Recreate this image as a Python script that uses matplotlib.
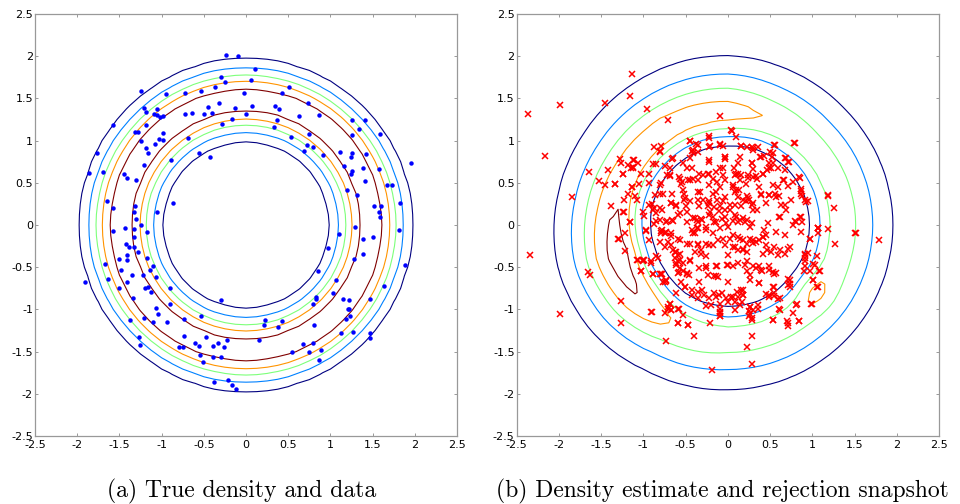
import numpy as np
import matplotlib
matplotlib.use("Agg")
import matplotlib.pyplot as plt

plt.rcParams['axes.unicode_minus'] = False

# contour levels shared by both panels (density values)
levels = [0.146, 0.315, 0.498, 0.667, 0.864]
level_colors = plt.cm.jet([0.0, 0.25, 0.5, 0.75, 1.0])

# true density: ring of radius ring_r, width ring_w
ring_r = 1.48
ring_w = 0.25

# density estimate: ring with angle dependent height
est_center = (0.0, 0.0)
est_radius = 1.34
est_inner_w = 0.22
est_outer_w = 0.49
est_angles = [0, 45, 70, 90, 120, 150, 172, 195, 218, 240, 270, 315]
est_amp = [0.60, 0.60, 0.66, 0.75, 0.77, 0.80, 0.87, 0.98, 0.87, 0.67, 0.60, 0.60]
# small extra bumps: x, y, height, width
est_bumps = [(1.02, -0.78, 0.13, 0.15), (0.95, 0.95, 0.08, 0.06), (-0.78, 1.12, 0.10, 0.06)]

# observed data (blue dots)
blue_pts = np.array([
    (-0.24, 2.01), (-0.09, 2.00), (0.11, 1.85), (-0.30, 1.75), (-0.25, 1.69), (0.06, 1.72),
    (-0.37, 1.63), (-0.53, 1.59), (-0.72, 1.57), (-0.03, 1.57), (0.43, 1.57), (0.51, 1.63),
    (-0.95, 1.55), (-1.25, 1.59), (-1.21, 1.39), (-1.18, 1.34), (-1.06, 1.37), (-1.09, 1.32),
    (-1.05, 1.30), (-1.02, 1.28), (-0.98, 1.29), (-0.72, 1.31), (-0.64, 1.33), (-0.50, 1.31),
    (-0.45, 1.40), (-0.40, 1.33), (-0.32, 1.44), (-0.13, 1.39), (0.00, 1.31), (0.07, 1.41),
    (-0.17, 1.26), (-0.28, 1.20), (0.34, 1.41), (0.39, 1.37), (0.37, 1.24), (0.33, 1.16),
    (0.63, 1.29), (0.73, 1.44), (0.87, 1.30), (0.53, 1.04), (0.75, 1.08), (0.72, 0.95),
    (0.79, 0.92), (0.69, 0.88), (0.91, 0.83), (-1.58, 1.18), (-1.18, 1.18), (-1.31, 1.10),
    (-1.28, 1.10), (-1.24, 0.99), (-1.18, 0.91), (-1.16, 0.85), (-1.08, 0.96), (-1.03, 1.02),
    (-0.98, 1.09), (-0.98, 1.01), (-1.21, 0.71), (-0.89, 0.77), (-0.69, 1.03), (-0.56, 0.85),
    (-0.43, 0.81), (-1.77, 0.85), (-1.86, 0.62), (-1.70, 0.63), (-1.45, 0.61), (-1.41, 0.56),
    (-1.30, 0.53), (-1.65, 0.28), (-1.58, 0.20), (-1.32, 0.22), (-1.33, 0.16), (-1.30, 0.07),
    (-1.25, 0.00), (-1.44, -0.03), (-1.33, -0.05), (-1.58, -0.07), (-1.17, -0.08), (-1.05, 0.15),
    (-0.87, 0.26), (1.25, 1.24), (1.41, 1.24), (1.34, 1.14), (1.26, 1.07), (1.59, 1.08),
    (1.42, 0.84), (1.11, 0.86), (1.25, 0.85), (1.24, 0.80), (1.16, 0.70), (1.39, 0.68),
    (1.25, 0.64), (1.24, 0.60), (1.58, 0.66), (1.41, 0.52), (1.20, 0.41), (1.32, 0.36),
    (1.67, 0.47), (1.73, 0.47), (1.82, 0.26), (1.95, 0.73), (1.52, 0.22), (1.60, 0.22),
    (1.58, 0.15), (1.59, 0.10), (1.29, -0.02), (1.10, -0.11), (1.38, -0.16), (1.50, -0.14),
    (1.81, -0.06), (-1.33, -0.14), (-1.42, -0.23), (-1.39, -0.26), (-1.33, -0.26), (-1.28, -0.32),
    (-1.51, -0.40), (-1.41, -0.36), (-1.41, -0.41), (-1.17, -0.39), (-1.67, -0.46), (-1.48, -0.53),
    (-1.10, -0.48), (-1.14, -0.53), (-1.64, -0.64), (-1.35, -0.59), (-1.22, -0.59), (-1.07, -0.62),
    (-1.91, -0.68), (-1.41, -0.68), (-1.50, -0.75), (-1.16, -0.73), (-1.20, -0.75), (-1.13, -0.79),
    (-0.90, -0.75), (-1.34, -0.87), (-0.90, -0.94), (-1.07, -0.98), (-1.04, -1.05), (-1.37, -1.12),
    (-1.21, -1.10), (-1.10, -1.15), (-0.94, -1.15), (-0.74, -1.11), (-0.73, -1.32), (-1.27, -1.33),
    (-1.26, -1.42), (-0.80, -1.45), (-0.75, -1.45), (-0.60, -1.40), (-0.56, -1.43), (-0.48, -1.33),
    (-0.53, -1.08), (-0.39, -1.43), (-0.33, -1.40), (-0.26, -1.44), (-0.22, -1.36), (-0.54, -1.54),
    (-0.51, -1.62), (-0.39, -1.56), (-0.30, -1.56), (-0.38, -1.86), (-0.21, -1.84), (-0.17, -1.90),
    (-0.12, -1.94), (-0.30, -0.89), (0.22, -1.12), (0.21, -1.18), (0.43, -1.14), (0.38, -1.21),
    (0.15, -1.36), (0.54, -1.50), (0.68, -1.41), (0.75, -1.50), (0.79, -1.40), (0.86, -1.60),
    (0.89, -1.48), (0.81, -1.18), (0.83, -0.85), (0.83, -0.88), (0.79, -0.94), (1.03, -0.81),
    (1.15, -0.88), (1.22, -0.89), (1.22, -0.99), (1.21, -1.00), (1.19, -1.11), (1.23, -1.08),
    (1.12, -1.28), (1.27, -1.27), (1.47, -0.88), (1.47, -1.28), (1.47, -1.34), (1.64, -0.72),
    (1.88, -0.47), (1.07, -0.65), (0.85, -0.55), (0.97, -0.27), (1.28, -0.40), (1.39, -0.34),
])

# rejection sampler snapshot (red crosses)
red_pts = np.array([
    (-2.37, 1.32), (-1.99, 1.42), (-2.17, 0.82), (-1.14, 1.79), (-1.16, 1.53), (-1.45, 1.44),
    (-0.96, 1.38), (-0.71, 1.25), (-0.10, 1.29), (-1.64, 0.63), (-1.53, 0.52), (-1.46, 0.47),
    (-1.42, 0.65), (-1.34, 0.49), (-1.85, 0.33), (-1.38, 0.23), (-1.28, 0.78), (-1.27, 0.73),
    (-1.24, 0.61), (-1.23, 0.30), (-1.23, 0.15), (-1.16, 0.04), (-1.18, 0.37), (-1.14, 0.45),
    (-1.12, 0.69), (-1.11, 0.77), (-1.07, 0.74), (-1.18, 0.71), (-1.08, 0.30), (-1.05, 0.49),
    (-1.03, 0.60), (-1.00, 0.16), (-0.99, 0.11), (-0.94, 0.50), (-0.93, 0.60), (-0.88, 0.92),
    (-0.81, 0.87), (-0.79, 0.94), (-0.89, 0.72), (-0.85, 0.72), (-0.75, 0.70), (-0.66, 0.78),
    (-0.81, 0.47), (-0.79, 0.50), (-0.81, 0.37), (-0.86, 0.36), (-0.90, 0.25), (-0.88, 0.20),
    (-0.81, 0.20), (-0.78, 0.18), (-0.97, -0.06), (-0.85, 0.05), (-0.72, 0.59), (-0.68, 0.58),
    (-0.66, 0.37), (-0.67, 0.26), (-0.66, 0.06), (-0.72, 0.05), (-0.78, -0.06), (-0.75, -0.10),
    (-0.67, -0.13), (-0.58, 0.57), (-0.54, 0.51), (-0.52, 0.37), (-0.52, 0.30), (-0.50, 0.22),
    (-0.47, 0.53), (-0.49, 0.67), (-0.45, 0.79), (-0.41, 0.89), (-0.36, 0.95), (-0.45, 1.00),
    (-0.43, 0.88), (-0.41, 0.85), (-0.36, 0.53), (-0.34, 0.60), (-0.33, 0.39), (-0.36, 0.30),
    (-0.34, 0.22), (-0.41, 0.08), (-0.37, 0.06), (-0.36, 0.03), (-0.31, 0.06), (-0.26, -0.02),
    (-0.24, 0.61), (-0.22, 0.60), (-0.22, 0.75), (-0.14, 0.63), (-0.13, 0.51), (-0.10, 0.45),
    (-0.18, 0.37), (-0.22, 0.28), (-0.24, 0.22), (-0.21, 0.16), (-0.16, 0.21), (-0.13, 0.30),
    (-0.06, 0.28), (-0.04, 0.10), (-0.07, 0.07), (-0.02, 0.02), (0.00, -0.02), (-0.22, 1.05),
    (-0.21, 0.94), (-0.10, 0.95), (-0.04, 0.81), (-0.03, 0.78), (0.04, 1.12), (0.09, 1.04),
    (0.16, 0.94), (0.22, 0.92), (0.29, 0.93), (0.30, 0.89), (0.36, 0.93), (0.38, 0.81),
    (0.43, 0.82), (0.50, 0.87), (0.56, 0.95), (0.52, 0.80), (0.53, 0.73), (0.46, 0.65),
    (0.49, 0.67), (0.42, 0.61), (0.28, 0.74), (0.12, 0.73), (0.07, 0.67), (0.10, 0.61),
    (0.15, 0.59), (0.14, 0.53), (0.06, 0.47), (0.09, 0.42), (0.13, 0.41), (0.21, 0.49),
    (0.24, 0.56), (0.33, 0.58), (0.22, 0.34), (0.21, 0.28), (0.25, 0.30), (0.30, 0.26),
    (0.15, 0.22), (0.08, 0.24), (0.02, 0.18), (0.10, 0.10), (0.18, 0.08), (0.22, 0.06),
    (0.06, 0.05), (0.12, 0.03), (0.26, -0.02), (0.34, 0.18), (0.39, 0.37), (0.49, 0.36),
    (0.45, 0.26), (0.56, 0.37), (0.60, 0.34), (0.66, 0.53), (0.77, 0.51), (0.75, 0.30),
    (0.67, 0.24), (0.69, 0.18), (0.60, 0.09), (0.79, 0.05), (0.86, 0.10), (0.88, 0.04),
    (0.86, 0.37), (0.88, 0.34), (0.91, 0.30), (0.95, 0.28), (0.84, 0.57), (0.87, 0.43),
    (0.69, 0.79), (0.72, 0.75), (0.67, 0.65), (0.78, 0.97), (1.18, 0.34), (1.26, 0.20),
    (1.07, -0.04), (1.18, -0.05), (1.51, -0.09), (1.79, -0.18), (0.30, 0.66), (0.34, 0.55),
    (0.53, 0.47), (0.37, 0.45), (-0.11, 0.17), (-0.18, 0.10), (-0.16, 0.04), (-0.49, 0.04),
    (-0.57, 0.14), (-0.61, 0.22),
    (-2.34, -0.36), (-1.99, -1.06), (-1.66, -0.56), (-1.63, -0.59), (-1.29, -0.16), (-1.22, -0.10),
    (-1.22, -0.31), (-1.26, -0.90), (-1.26, -1.16), (-0.90, -1.03), (-0.75, -1.04), (-0.73, -1.37),
    (-0.40, -1.32), (-0.19, -1.72), (0.28, -1.31), (0.22, -1.45), (0.28, -1.65), (1.50, -0.10),
    (1.27, -0.22), (1.06, -0.10), (0.97, -0.16), (0.95, -0.33), (0.91, -0.36), (0.91, -0.43),
    (0.90, -0.54), (1.01, -0.46), (1.05, -0.37), (1.09, -0.55), (1.01, -0.65), (1.05, -0.74),
    (0.99, -0.93), (0.82, -0.94), (0.77, -1.04), (0.84, -1.14), (0.70, -1.14), (0.71, -1.20),
    (0.53, -1.12), (0.60, -1.00), (0.54, -0.84), (0.59, -0.88), (0.71, -0.64), (0.73, -0.70),
    (0.73, -0.74), (0.54, -0.73), (0.53, -0.56), (0.57, -0.57), (0.68, -0.34), (0.73, -0.26),
    (0.61, -0.30), (0.68, -0.12), (0.45, -0.12), (0.41, -0.14), (0.41, -0.34), (0.46, -0.30),
    (0.49, -0.49), (0.40, -0.54), (0.37, -0.49), (0.37, -0.69), (0.45, -0.82), (0.49, -0.85),
    (0.26, -0.97), (0.25, -1.02), (0.25, -1.08), (0.29, -1.10), (0.36, -0.99), (0.17, -0.91),
    (0.18, -0.83), (0.18, -0.77), (0.11, -0.79), (0.06, -0.85), (0.08, -1.01), (0.00, -0.91),
    (-0.07, -0.80), (-0.11, -0.83), (-0.17, -0.81), (-0.10, -1.04), (-0.10, -1.08), (-0.21, -1.16),
    (-0.26, -0.96), (-0.36, -0.86), (-0.31, -0.77), (-0.34, -0.67), (-0.42, -0.77), (-0.51, -0.74),
    (-0.62, -0.81), (-0.58, -1.00), (-0.53, -1.07), (-0.59, -1.16), (-0.47, -1.18), (-0.69, -0.93),
    (-0.71, -0.97), (-0.67, -1.01), (-0.75, -0.68), (-0.73, -0.65), (-0.78, -0.58), (-0.81, -0.58),
    (-0.89, -0.58), (-1.01, -0.43), (-0.99, -0.41), (-1.08, -0.41), (-1.03, -0.54), (-0.91, -0.45),
    (-0.85, -0.37), (-0.88, 0.01), (-0.79, -0.10), (-0.73, -0.08), (-0.75, -0.26), (-0.67, -0.24),
    (-0.63, -0.32), (-0.57, -0.34), (-0.57, -0.41), (-0.61, -0.45), (-0.53, -0.45), (-0.58, -0.56),
    (-0.49, -0.57), (-0.46, -0.59), (-0.45, -0.42), (-0.39, -0.32), (-0.36, -0.24), (-0.32, -0.34),
    (-0.26, -0.37), (-0.18, -0.24), (-0.26, -0.22), (-0.12, -0.18), (-0.04, -0.24), (0.00, -0.36),
    (0.06, -0.26), (0.12, -0.14), (0.18, -0.18), (0.22, -0.22), (0.26, -0.16), (0.30, -0.21),
    (0.18, -0.30), (0.22, -0.43), (0.12, -0.45), (-0.01, -0.47), (-0.13, -0.49), (-0.16, -0.61),
    (-0.12, -0.62), (-0.26, -0.51), (0.23, -0.55), (0.26, -0.59), (0.26, -0.65), (0.00, -0.67),
    (-0.18, -0.10), (-0.09, -0.04), (-0.37, -0.04), (-0.41, -0.10), (-0.49, -0.22), (0.43, -0.06),
    (0.77, 0.00),
])

# more red crosses, read from close-ups of the dense centre
red_pts_close = np.array([
    (-0.80, 0.88), (-1.12, 0.77), (-1.15, 0.68), (-1.12, 0.68), (-1.24, 0.61), (-1.34, 0.48),
    (-1.14, 0.45), (-1.10, 0.34), (-1.24, 0.15), (-1.16, 0.03), (-0.65, 0.79), (-0.69, 0.67),
    (-0.53, 0.74), (-0.43, 0.67), (-0.45, 0.99), (-0.38, 0.96), (-0.36, 0.87), (-0.22, 1.03),
    (-0.22, 0.93), (-0.10, 0.96), (-0.22, 0.77), (-0.10, 0.67), (-0.69, 0.59), (-0.57, 0.55),
    (-0.55, 0.49), (-0.45, 0.53), (-0.77, 0.37), (-0.53, 0.41), (-0.51, 0.32), (-0.45, 0.28),
    (-0.67, 0.26), (-0.61, 0.24), (-0.93, 0.24), (-0.89, 0.18), (-0.85, 0.14), (-0.81, 0.06),
    (-0.73, 0.04), (-0.65, 0.05), (-0.59, 0.12), (-0.49, 0.16), (-0.39, 0.08), (-0.32, 0.07),
    (-0.22, 0.12), (-0.14, 0.04), (-0.41, 0.55), (-0.30, 0.59), (-0.18, 0.55), (-0.22, 0.47),
    (-0.14, 0.39), (-0.35, 0.39), (-0.30, 0.30), (-0.22, 0.26), (-0.10, 0.22),
    (0.05, 1.11), (-0.06, 0.94), (0.16, 0.94), (0.30, 0.91), (0.39, 0.81), (0.53, 0.85),
    (0.55, 0.95), (-0.04, 0.81), (0.14, 0.81), (0.28, 0.73), (0.49, 0.73), (0.51, 0.67),
    (0.59, 0.67), (0.67, 0.79), (0.71, 0.75), (0.79, 0.97), (-0.06, 0.67), (-0.06, 0.59),
    (-0.04, 0.53), (0.08, 0.59), (0.12, 0.61), (0.24, 0.59), (0.30, 0.57), (0.41, 0.61),
    (0.65, 0.53), (0.71, 0.46), (0.85, 0.56), (0.87, 0.40), (0.59, 0.45), (0.39, 0.35),
    (0.49, 0.35), (0.57, 0.33), (0.63, 0.24), (0.06, 0.45), (0.08, 0.39), (0.12, 0.33),
    (0.18, 0.30), (0.24, 0.32), (0.28, 0.24), (0.30, 0.18), (0.02, 0.24), (-0.04, 0.33),
    (-0.04, 0.18), (0.08, 0.12), (0.14, 0.06), (0.20, 0.04), (0.28, 0.02), (0.47, 0.02),
    (0.61, 0.10), (0.81, 0.04), (0.85, 0.10), (0.92, 0.27), (1.06, -0.04), (1.18, 0.35),
    (-1.30, -0.16), (-0.97, -0.07), (-0.93, -0.18), (-0.79, -0.07), (-0.75, -0.10), (-0.67, -0.10),
    (-0.81, -0.20), (-0.71, -0.20), (-0.59, -0.16), (-0.57, -0.18), (-0.65, -0.30), (-0.61, -0.32),
    (-0.59, -0.36), (-0.43, -0.06), (-0.39, -0.10), (-0.35, -0.04), (-0.26, -0.06), (-0.45, -0.22),
    (-0.35, -0.22), (-0.32, -0.30), (-0.22, -0.24), (-1.06, -0.41), (-1.01, -0.41), (-1.03, -0.55),
    (-0.91, -0.43), (-0.83, -0.39), (-0.89, -0.58), (-0.79, -0.58), (-0.77, -0.68), (-0.73, -0.66),
    (-0.63, -0.39), (-0.59, -0.43), (-0.61, -0.47), (-0.57, -0.51), (-0.53, -0.55), (-0.59, -0.57),
    (-0.49, -0.58), (-0.55, -0.67), (-0.51, -0.73), (-0.45, -0.43), (-0.34, -0.51), (-0.26, -0.49),
    (-0.24, -0.59), (-0.14, -0.49), (-0.14, -0.61), (-0.43, -0.83), (-0.35, -0.79), (-0.28, -0.83),
    (-0.22, -0.87), (-0.20, -0.95), (-0.14, -0.85), (-0.10, -0.99), (-0.69, -0.93), (-0.71, -0.99),
    (-0.67, -1.01), (-0.59, -0.99), (-0.91, -1.03), (-0.59, -1.16), (-0.47, -1.18),
    (-0.06, -0.16), (0.02, -0.16), (0.06, -0.12), (0.14, -0.16), (0.08, -0.26), (0.12, -0.30),
    (0.18, -0.28), (0.22, -0.32), (0.30, -0.18), (0.33, -0.20), (0.37, -0.18), (0.41, -0.14),
    (0.57, -0.08), (0.45, -0.24), (0.51, -0.32), (0.55, -0.26), (0.59, -0.36), (0.71, -0.28),
    (0.87, -0.08), (0.97, -0.16), (1.07, -0.04), (0.00, -0.47), (0.06, -0.49), (0.20, -0.47),
    (0.30, -0.49), (0.33, -0.51), (0.39, -0.53), (0.49, -0.53), (0.55, -0.58), (0.37, -0.69),
    (0.16, -0.77), (0.18, -0.83), (0.12, -0.85), (0.04, -0.85), (-0.02, -0.87), (0.08, -0.91),
    (0.14, -0.95), (-0.10, -0.93), (0.73, -0.65), (0.71, -0.71), (0.53, -0.73), (0.49, -0.83),
    (0.55, -0.81), (0.61, -0.87), (0.91, -0.34), (0.91, -0.39), (0.91, -0.49), (0.97, -0.55),
    (1.03, -0.47), (1.08, -0.55), (1.01, -0.65), (1.07, -0.73), (0.81, -0.95), (0.98, -0.93),
    (0.26, -0.97), (0.30, -1.01), (0.36, -0.95), (0.26, -1.05), (0.28, -1.12), (0.61, -1.01),
    (0.71, -1.16), (0.84, -1.14), (0.53, -1.12), (-0.10, -1.03), (-0.10, -1.08),
])

captions = ["(a) True density and data", "(b) Density estimate and rejection snapshot"]
ticks = [-2.5, -2, -1.5, -1, -0.5, 0, 0.5, 1, 1.5, 2, 2.5]
tick_labels = ["-2.5", "-2", "-1.5", "-1", "-0.5", "0", "0.5", "1", "1.5", "2", "2.5"]


def true_density(X, Y):
    r = np.hypot(X, Y)
    return np.exp(-(r - ring_r) ** 2 / (2 * ring_w ** 2))


def estimated_density(X, Y):
    dx = X - est_center[0]
    dy = Y - est_center[1]
    r = np.hypot(dx, dy)
    th = np.degrees(np.arctan2(dy, dx)) % 360
    amp = np.interp(th, est_angles, est_amp, period=360)
    d = r - est_radius
    g = np.where(d < 0, np.exp(-d ** 2 / (2 * est_inner_w ** 2)),
                 np.exp(-(np.abs(d) / est_outer_w) ** 1.6))
    f = amp * g
    for bx, by, bh, bw in est_bumps:
        f = f + bh * np.exp(-((X - bx) ** 2 + (Y - by) ** 2) / (2 * bw ** 2))
    return f


def style_axes(ax):
    ax.set_xlim(-2.5, 2.5)
    ax.set_ylim(-2.5, 2.5)
    ax.set_xticks(ticks)
    ax.set_yticks(ticks)
    ax.set_xticklabels(tick_labels, fontsize=8, fontfamily='DejaVu Sans')
    ax.set_yticklabels(tick_labels, fontsize=8, fontfamily='DejaVu Sans')
    ax.tick_params(direction='in', length=2.5, width=0.7, color='#999999',
                   top=True, right=True)
    ax.tick_params(axis='x', pad=3)
    ax.tick_params(axis='y', pad=1.5)
    for s in ax.spines.values():
        s.set_color('#999999')
        s.set_linewidth(0.9)


fig = plt.figure(figsize=(9.6, 5.04), dpi=100)
ax1 = fig.add_axes([0.0365, 0.1349, 0.4396, 0.8373])
ax2 = fig.add_axes([0.5382, 0.1349, 0.4402, 0.8373])

g = np.linspace(-2.5, 2.5, 41)
X, Y = np.meshgrid(g, g)

ax1.contour(X, Y, true_density(X, Y), levels=levels, colors=level_colors, linewidths=0.8)
ax1.plot(blue_pts[:, 0], blue_pts[:, 1], 'o', color='#0000ff', ms=3.2, mew=0)

g2 = np.linspace(-2.5, 2.5, 51)
X2, Y2 = np.meshgrid(g2, g2)
ax2.contour(X2, Y2, estimated_density(X2, Y2), levels=levels, colors=level_colors, linewidths=0.8)
all_red = np.vstack([red_pts, red_pts_close])
ax2.plot(all_red[:, 0], all_red[:, 1], 'x', color='#ff0000', ms=3.8, mew=1.1)

for ax in (ax1, ax2):
    style_axes(ax)

fig.text(241.5 / 960, 7 / 504, captions[0], ha='center', va='baseline',
         fontsize=17, fontfamily='cmr10')
fig.text(722.5 / 960, 7 / 504, captions[1], ha='center', va='baseline',
         fontsize=17, fontfamily='cmr10')

fig.savefig("out.png", dpi=100)
